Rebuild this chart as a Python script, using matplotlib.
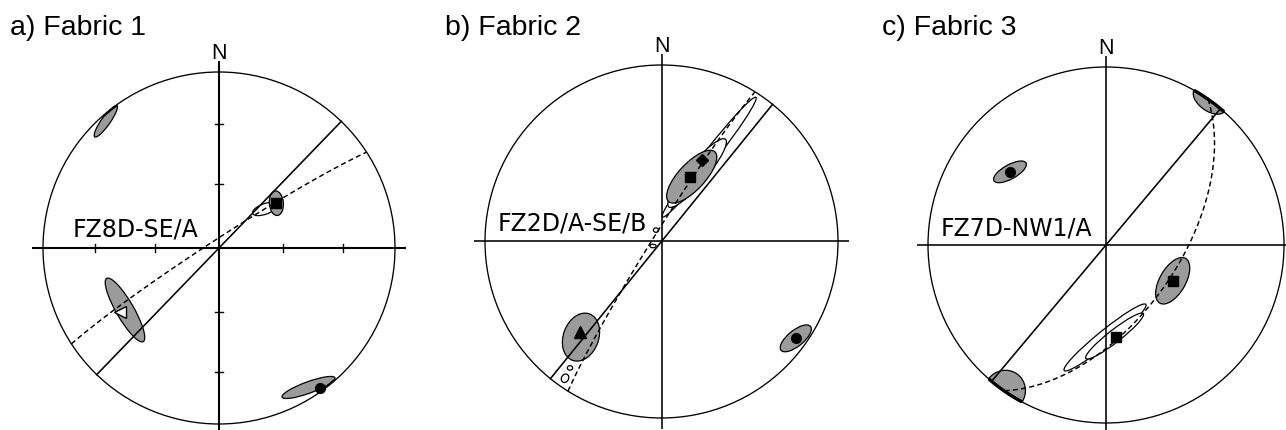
"""
Three lower-hemisphere equal-area stereonets (Fabric 1-3) with great circles,
mean orientations, confidence cones and density contours.
"""

import matplotlib.pyplot as plt
import numpy as np
from matplotlib.patches import Circle, Ellipse

# ---------------------------------------------------------------------------
# data: all orientations are trend / plunge (deg), planes are strike (RHR) / dip
# ---------------------------------------------------------------------------
titles = ["a) Fabric 1", "b) Fabric 2", "c) Fabric 3"]
site_labels = ["FZ8D-SE/A", "FZ2D/A-SE/B", "FZ7D-NW1/A"]

# great circles (first one solid, second one dashed)
plane_strike_a = [44, 237]
plane_dip_a = [90, 86]
plane_strike_b = [39, 212]
plane_dip_b = [90, 86]
plane_strike_c = [40, 35]
plane_dip_c = [90, 57]

# principal axes
axis_kind_a = ["square", "open_triangle", "circle"]
axis_trend_a = [52, 237, 144]
axis_plunge_a = [56, 33.4, 2.2]
axis_kind_b = ["square", "diamond", "triangle", "circle"]
axis_trend_b = [23.7, 26.3, 222, 125.8]
axis_plunge_b = [57, 47.3, 31.6, 6.9]
axis_kind_c = ["square", "small_square", "circle"]
axis_trend_c = [118.2, 173.8, 307.3]
axis_plunge_c = [55, 46.7, 32.7]

# confidence ellipses: centre trend / plunge, major / minor (radius units), azimuth of major (deg, ccw from E)
cone_trend_a = [52, 236.6, 147.3, 318.3]
cone_plunge_a = [56, 36.2, 6.5, 3.8]
cone_major_a = [0.14, 0.415, 0.32, 0.22]
cone_minor_a = [0.08, 0.10, 0.065, 0.05]
cone_azim_a = [95, -60, 20, 55]

cone_trend_b = [25, 220.1, 125.8]
cone_plunge_b = [56.7, 29.9, 6.9]
cone_major_b = [0.385, 0.28, 0.215]
cone_minor_b = [0.15, 0.2, 0.09]
cone_azim_b = [47, 70, 39]

cone_trend_c = [118.2, 307.3, 35.6, 214.7]
cone_plunge_c = [55, 32.7, 0, 0]
cone_major_c = [0.29, 0.206, 0.21, 0.23]
cone_minor_c = [0.145, 0.08, 0.12, 0.24]
cone_azim_c = [60, 29, -35.6, 145.3]

# density contours (same description as the ellipses)
cont_trend_a = [49.7]
cont_plunge_a = [61.9]
cont_major_a = [0.15]
cont_minor_a = [0.06]
cont_azim_a = [20]

cont_trend_b = [29.5, 27.5, 334.4, 242, 215.2, 215.9]
cont_plunge_b = [44.3, 54, 84.2, 85.6, 5.8, 12.6]
cont_major_b = [0.86, 0.5, 0.03, 0.035, 0.05, 0.03]
cont_minor_b = [0.075, 0.11, 0.025, 0.02, 0.04, 0.025]
cont_azim_b = [52, 50, 0, 0, 60, 0]

cont_trend_c = [180.6, 174.6]
cont_plunge_c = [46.9, 47.4]
cont_major_c = [0.59, 0.41]
cont_minor_c = [0.08, 0.07]
cont_azim_c = [39, 38]

tick_plunges = [30, 60]  # graduation on the net of panel a

# ---------------------------------------------------------------------------
W, H = 1286, 430
GREY = "#9b9b9b"
L = 1.3  # half-width of each axes in units of the net radius


def project(trend, plunge):
    """Lambert (equal-area) projection, unit primitive."""
    t = np.radians(trend)
    p = np.radians(plunge)
    r = np.sqrt(2) * np.sin((np.pi / 2 - p) / 2)
    return r * np.sin(t), r * np.cos(t)


def great_circle(strike, dip, n=361):
    s = np.radians(strike)
    d = np.radians(dip)
    dd = s + np.pi / 2
    rake = np.linspace(0, np.pi, n)
    sv = np.array([np.sin(s), np.cos(s), 0.0])
    dv = np.array([np.sin(dd) * np.cos(d), np.cos(dd) * np.cos(d), -np.sin(d)])
    v = np.outer(np.cos(rake), sv) + np.outer(np.sin(rake), dv)
    plunge = np.degrees(np.arcsin(np.clip(-v[:, 2], -1, 1)))
    trend = np.degrees(np.arctan2(v[:, 0], v[:, 1]))
    return project(trend, plunge)


MARKERS = {
    "square": dict(marker="s", ms=7.5, mfc="black", mec="black"),
    "small_square": dict(marker="s", ms=6.5, mfc="black", mec="black"),
    "diamond": dict(marker="D", ms=6, mfc="black", mec="black"),
    "circle": dict(marker="o", ms=7, mfc="black", mec="black"),
    "triangle": dict(marker="^", ms=8, mfc="black", mec="black"),
    "open_triangle": dict(marker="<", ms=8, mfc="white", mec="black", mew=1.0),
}

panels = [
    dict(centre=(219, 248, 176), strikes=plane_strike_a, dips=plane_dip_a,
         kinds=axis_kind_a, trends=axis_trend_a, plunges=axis_plunge_a,
         cones=(cone_trend_a, cone_plunge_a, cone_major_a, cone_minor_a, cone_azim_a),
         conts=(cont_trend_a, cont_plunge_a, cont_major_a, cont_minor_a, cont_azim_a),
         ticks=True, cross_lw=1.5, title_x=10, label_xy=(-0.83, 0.064)),
    dict(centre=(661.5, 241.5, 176.5), strikes=plane_strike_b, dips=plane_dip_b,
         kinds=axis_kind_b, trends=axis_trend_b, plunges=axis_plunge_b,
         cones=(cone_trend_b, cone_plunge_b, cone_major_b, cone_minor_b, cone_azim_b),
         conts=(cont_trend_b, cont_plunge_b, cont_major_b, cont_minor_b, cont_azim_b),
         ticks=False, cross_lw=1.15, title_x=445, label_xy=(-0.926, 0.065)),
    dict(centre=(1106, 245, 178), strikes=plane_strike_c, dips=plane_dip_c,
         kinds=axis_kind_c, trends=axis_trend_c, plunges=axis_plunge_c,
         cones=(cone_trend_c, cone_plunge_c, cone_major_c, cone_minor_c, cone_azim_c),
         conts=(cont_trend_c, cont_plunge_c, cont_major_c, cont_minor_c, cont_azim_c),
         ticks=False, cross_lw=1.15, title_x=882, label_xy=(-0.927, 0.056)),
]

fig = plt.figure(figsize=(W / 100, H / 100), dpi=100)

for i, pan in enumerate(panels):
    cx, cy, R = pan["centre"]
    ax = fig.add_axes([(cx - L * R) / W, (H - cy - L * R) / H, 2 * L * R / W, 2 * L * R / H])
    ax.set_xlim(-L, L)
    ax.set_ylim(-L, L)
    ax.axis("off")

    prim = Circle((0, 0), 1, fill=False, ec="black", lw=0.95, zorder=5)
    ax.add_patch(prim)

    # cross hair
    ax.plot([-1.06, 1.06], [0, 0], color="black", lw=pan["cross_lw"], zorder=5, solid_capstyle="butt")
    ax.plot([0, 0], [-1.06, 1.06], color="black", lw=pan["cross_lw"], zorder=5, solid_capstyle="butt")
    if pan["ticks"]:
        for p in tick_plunges:
            r = project(0, p)[1]
            for s in (-1, 1):
                ax.plot([s * r, s * r], [-0.022, 0.022], color="black", lw=1.0, zorder=5)
                ax.plot([-0.022, 0.022], [s * r, s * r], color="black", lw=1.0, zorder=5)

    ax.text(0, 1.075, "N", ha="center", va="baseline", fontsize=15.5, family="Liberation Sans")

    # density contours
    for t, p, a, b, az in zip(*pan["conts"]):
        x, y = project(t, p)
        e = Ellipse((x, y), a, b, angle=az, fc="white", ec="black", lw=0.9, zorder=2)
        ax.add_patch(e)
        e.set_clip_path(prim)

    # confidence cones
    for t, p, a, b, az in zip(*pan["cones"]):
        x, y = project(t, p)
        e = Ellipse((x, y), a, b, angle=az, fc=GREY, ec="black", lw=0.9, zorder=2.5)
        ax.add_patch(e)
        e.set_clip_path(prim)
        rim = Circle((0, 0), 1, fill=False, ec="black", lw=2.4, zorder=5.5)
        ax.add_patch(rim)
        rim.set_clip_path(e)

    # great circles
    for j, (s, d) in enumerate(zip(pan["strikes"], pan["dips"])):
        x, y = great_circle(s, d)
        if j == 0:
            ax.plot(x, y, color="black", lw=1.15, zorder=3)
        else:
            ax.plot(x, y, color="black", lw=1.05, dashes=(3.5, 2.2), zorder=3)

    # principal axes
    for k, t, p in zip(pan["kinds"], pan["trends"], pan["plunges"]):
        x, y = project(t, p)
        ax.plot([x], [y], ls="none", zorder=6, **MARKERS[k])

    lx, ly = pan["label_xy"]
    ax.text(lx, ly, site_labels[i], ha="left", va="baseline", fontsize=17, family="DejaVu Sans", zorder=7)

    fig.text(pan["title_x"] / W, 1 - 35 / H, titles[i], ha="left", va="baseline",
             fontsize=20.5, family="Liberation Sans")

fig.savefig("out.png", dpi=100)
